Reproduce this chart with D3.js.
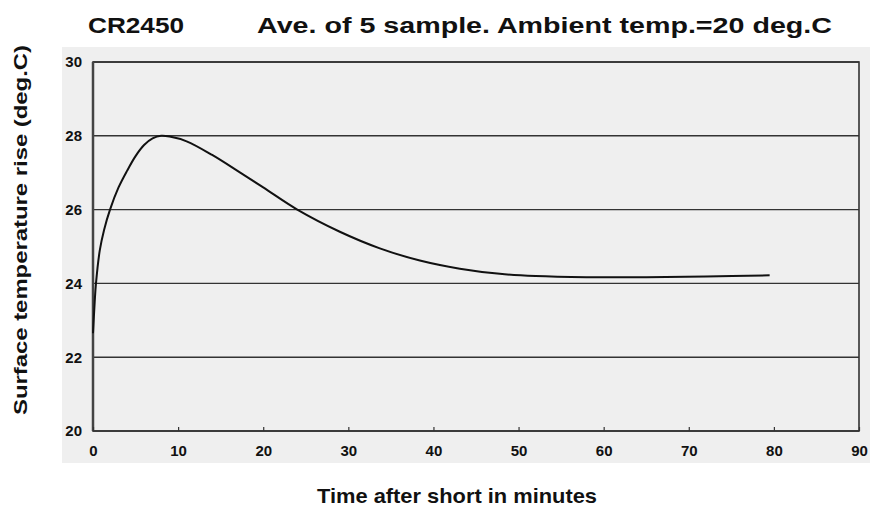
<!DOCTYPE html>
<html>
<head>
<meta charset="utf-8">
<script src="https://cdn.jsdelivr.net/npm/d3@7"></script>
<style>
  body { margin: 0; background: #fff; }
  text { font-family: "Liberation Sans", Arial, sans-serif; font-weight: bold; fill: #111; }
</style>
</head>
<body>
<svg id="chart" width="870" height="516"></svg>
<script>
// time after short (minutes)
const times = [0, 0.2, 0.35, 0.8, 1.3, 2, 3, 4, 5, 6, 7, 8, 9, 11, 14, 17.3, 20, 24, 29, 33.7, 38.4, 43.1, 47.8, 52, 58, 65, 72, 79.5];
// surface temperature (deg.C)
const temps = [22.65, 23.5, 24, 24.9, 25.45, 26, 26.6, 27.05, 27.45, 27.75, 27.93, 28, 27.98, 27.85, 27.48, 27.0, 26.6, 26.0, 25.4, 24.95, 24.62, 24.4, 24.26, 24.2, 24.17, 24.17, 24.19, 24.22];

const xTicks = [0, 10, 20, 30, 40, 50, 60, 70, 80, 90];
const yTicks = [20, 22, 24, 26, 28, 30];

const svg = d3.select("#chart");

// scanned paper background
svg.append("rect")
  .attr("x", 62).attr("y", 47)
  .attr("width", 808).attr("height", 416)
  .attr("fill", "#efefef");

const x = d3.scaleLinear().domain([0, 90]).range([93, 859]);
const y = d3.scaleLinear().domain([20, 30]).range([431, 62]);

// grid lines
svg.append("g")
  .selectAll("line")
  .data(yTicks)
  .join("line")
  .attr("x1", x(0)).attr("x2", x(90))
  .attr("y1", d => y(d)).attr("y2", d => y(d))
  .attr("stroke", "#333")
  .attr("stroke-width", 1.4);

// frame
svg.append("rect")
  .attr("x", x(0)).attr("y", y(30))
  .attr("width", x(90) - x(0)).attr("height", y(20) - y(30))
  .attr("fill", "none")
  .attr("stroke", "#333")
  .attr("stroke-width", 1.6);
svg.append("line")
  .attr("x1", x(0)).attr("x2", x(0))
  .attr("y1", y(30)).attr("y2", y(20))
  .attr("stroke", "#444")
  .attr("stroke-width", 2.5);

// x axis
const xAxis = svg.append("g")
  .attr("transform", `translate(0,${y(20)})`)
  .call(d3.axisBottom(x).tickValues(xTicks).tickSize(-4).tickPadding(14));
xAxis.select(".domain").remove();
xAxis.selectAll("line").attr("stroke", "#333").attr("stroke-width", 1.2);
xAxis.selectAll("text")
  .style("font-family", "'Liberation Sans', Arial, sans-serif")
  .style("font-weight", "bold")
  .style("font-size", "15px")
  .attr("fill", "#222");

// y axis
const yAxis = svg.append("g")
  .attr("transform", `translate(${x(0)},0)`)
  .call(d3.axisLeft(y).tickValues(yTicks).tickSize(0).tickPadding(11));
yAxis.select(".domain").remove();
yAxis.selectAll("text")
  .style("font-family", "'Liberation Sans', Arial, sans-serif")
  .style("font-weight", "bold")
  .style("font-size", "15px")
  .attr("fill", "#222");

// curve
const line = d3.line()
  .x((d, i) => x(times[i]))
  .y(d => y(d))
  .curve(d3.curveCatmullRom.alpha(0.5));

svg.append("path")
  .datum(temps)
  .attr("d", line)
  .attr("fill", "none")
  .attr("stroke", "#111")
  .attr("stroke-width", 2);

// titles
svg.append("text")
  .attr("x", 88).attr("y", 33)
  .attr("textLength", 96)
  .attr("lengthAdjust", "spacingAndGlyphs")
  .style("font-size", "22px")
  .text("CR2450");

svg.append("text")
  .attr("x", 257).attr("y", 33)
  .attr("textLength", 575)
  .attr("lengthAdjust", "spacingAndGlyphs")
  .style("font-size", "22px")
  .text("Ave. of 5 sample. Ambient temp.=20 deg.C");

svg.append("text")
  .attr("transform", "translate(27,230) rotate(-90)")
  .attr("text-anchor", "middle")
  .attr("textLength", 370)
  .attr("lengthAdjust", "spacingAndGlyphs")
  .style("font-size", "18px")
  .text("Surface temperature rise (deg.C)");

svg.append("text")
  .attr("x", 457).attr("y", 503)
  .attr("text-anchor", "middle")
  .attr("textLength", 280)
  .attr("lengthAdjust", "spacingAndGlyphs")
  .style("font-size", "21px")
  .text("Time after short in minutes");
</script>
</body>
</html>
